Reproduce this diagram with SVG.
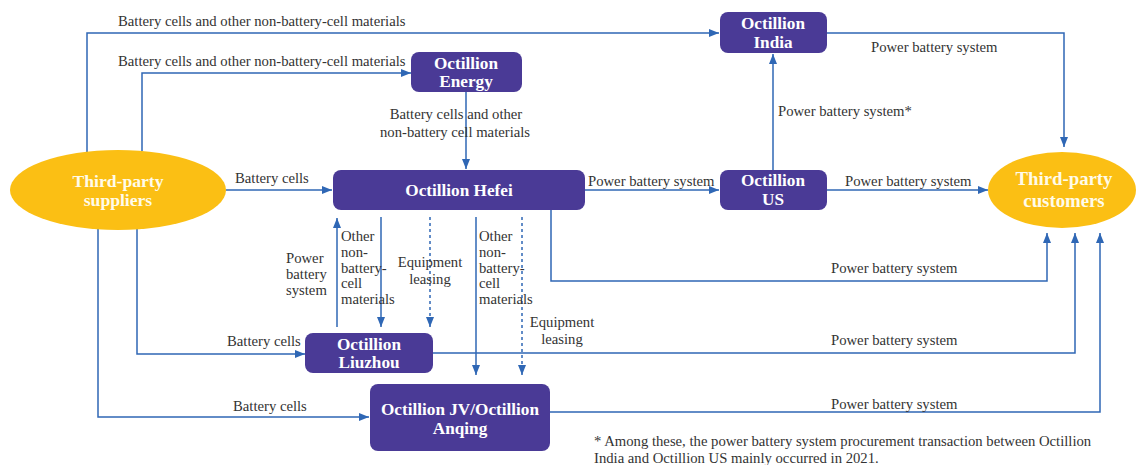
<svg xmlns="http://www.w3.org/2000/svg" width="1136" height="465" viewBox="0 0 1136 465">
<style>
.box{fill:#4a3a96;}
.ell{fill:#fbbf14;}
text{font-family:'Liberation Serif','Times New Roman','DejaVu Serif',serif;}
.nt{font-weight:bold;font-size:17.2px;fill:#ffffff;text-anchor:middle;}
.et{font-weight:bold;font-size:17.6px;fill:#fffbea;text-anchor:middle;}
.lb{font-size:14.7px;fill:#333333;}
.mid{text-anchor:middle;}
.ln{fill:none;stroke:#2f67b5;stroke-width:1.5;}
.ar{marker-end:url(#ah);}
.dash{stroke-dasharray:3,3;}
</style>
<defs>
<marker id="ah" markerUnits="userSpaceOnUse" markerWidth="10" markerHeight="10" viewBox="0 0 10 10" refX="10" refY="5" orient="auto">
<path d="M0,1 L10,5 L0,9 Z" fill="#2f67b5"/>
</marker>
</defs>
<rect width="1136" height="465" fill="#ffffff"/>

<g id="connectors">
<path class="ln ar" d="M87,152 V33 H719"/>
<path class="ln ar" d="M142,151 V73 H411"/>
<path class="ln ar" d="M466,92 V169"/>
<path class="ln ar" d="M226,190 H332"/>
<path class="ln ar" d="M585,190 H719"/>
<path class="ln ar" d="M773,170 V54"/>
<path class="ln ar" d="M827,33 H1064 V147"/>
<path class="ln ar" d="M827,190 H988"/>
<path class="ln ar" d="M551,210 V281 H1047 V233"/>
<path class="ln ar" d="M433,353 H1075 V233"/>
<path class="ln ar" d="M550,412 H1100 V233"/>
<path class="ln ar" d="M137,229 V354 H305"/>
<path class="ln ar" d="M98,229 V417 H369"/>
<path class="ln ar" d="M337,327 V218"/>
<path class="ln ar" d="M381,217 V327"/>
<path class="ln ar dash" d="M430,217 V327"/>
<path class="ln ar" d="M476,217 V375"/>
<path class="ln ar dash" d="M522,217 V375"/>

<text class="lb" x="118" y="26">Battery cells and other non-battery-cell materials</text>
<text class="lb" x="118" y="66">Battery cells and other non-battery-cell materials</text>
<text class="lb mid" x="456" y="119">Battery cells and other</text>
<text class="lb mid" x="455" y="137">non-battery cell materials</text>
<text class="lb" x="235" y="183">Battery cells</text>
<text class="lb" x="588" y="186">Power battery system</text>
<text class="lb" x="778" y="116">Power battery system*</text>
<text class="lb" x="871" y="52">Power battery system</text>
<text class="lb" x="845" y="186">Power battery system</text>
<text class="lb" x="831" y="273">Power battery system</text>
<text class="lb" x="831" y="345">Power battery system</text>
<text class="lb" x="831" y="409">Power battery system</text>
<text class="lb" x="286" y="263">Power</text>
<text class="lb" x="286" y="279">battery</text>
<text class="lb" x="286" y="295">system</text>
<text class="lb" x="341" y="241">Other</text>
<text class="lb" x="341" y="257">non-</text>
<text class="lb" x="341" y="273">battery-</text>
<text class="lb" x="341" y="288">cell</text>
<text class="lb" x="341" y="304">materials</text>
<text class="lb mid" x="430" y="267">Equipment</text>
<text class="lb mid" x="430" y="284">leasing</text>
<text class="lb" x="479" y="241">Other</text>
<text class="lb" x="479" y="257">non-</text>
<text class="lb" x="479" y="273">battery-</text>
<text class="lb" x="479" y="288">cell</text>
<text class="lb" x="479" y="304">materials</text>
<text class="lb mid" x="562" y="327">Equipment</text>
<text class="lb mid" x="562" y="344">leasing</text>
<text class="lb" x="227" y="346">Battery cells</text>
<text class="lb" x="233" y="411">Battery cells</text>
</g>

<g id="suppliers">
<ellipse class="ell" cx="118" cy="190" rx="108" ry="40"/>
<text class="et" x="118" y="187">Third-party</text>
<text class="et" x="118" y="206">suppliers</text>
</g>
<g id="customers">
<ellipse class="ell" cx="1062" cy="190" rx="74" ry="38"/>
<text class="et" x="1064" y="185" style="font-size:18.8px">Third-party</text>
<text class="et" x="1064" y="207" style="font-size:18.8px">customers</text>
</g>
<g id="india">
<rect class="box" x="720" y="12" width="107" height="41" rx="8"/>
<text class="nt" x="773" y="29">Octillion</text>
<text class="nt" x="773" y="48">India</text>
</g>
<g id="energy">
<rect class="box" x="411" y="52" width="111" height="40" rx="8"/>
<text class="nt" x="466" y="69">Octillion</text>
<text class="nt" x="466" y="87">Energy</text>
</g>
<g id="hefei">
<rect class="box" x="333" y="170" width="252" height="40" rx="8"/>
<text class="nt" x="459" y="196">Octillion Hefei</text>
</g>
<g id="us">
<rect class="box" x="720" y="170" width="107" height="40" rx="8"/>
<text class="nt" x="773" y="186">Octillion</text>
<text class="nt" x="773" y="205">US</text>
</g>
<g id="liuzhou">
<rect class="box" x="305" y="333" width="128" height="40" rx="8"/>
<text class="nt" x="369" y="350">Octillion</text>
<text class="nt" x="369" y="368">Liuzhou</text>
</g>
<g id="jv">
<rect class="box" x="370" y="384" width="180" height="67" rx="8"/>
<text class="nt" x="460" y="415">Octillion JV/Octillion</text>
<text class="nt" x="460" y="434">Anqing</text>
</g>
<g id="footnote">
<text class="lb" x="594" y="446">* Among these, the power battery system procurement transaction between Octillion</text>
<text class="lb" x="594" y="463">India and Octillion US mainly occurred in 2021.</text>
</g>
</svg>
